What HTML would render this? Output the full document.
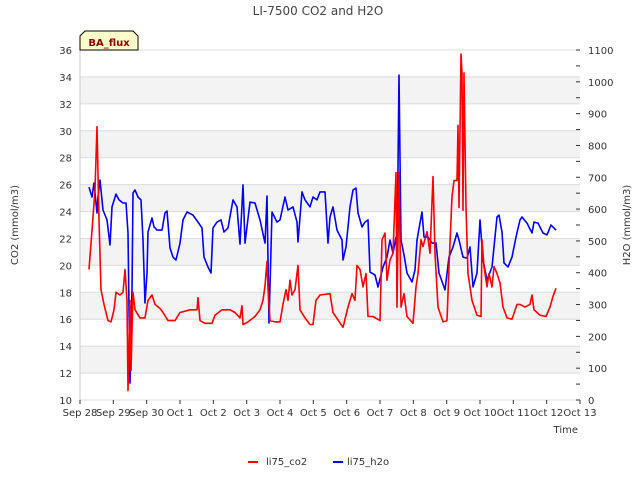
<!DOCTYPE html>
<html><head><meta charset="utf-8"><style>
body{margin:0;background:#fff;}
svg text{font-family:"DejaVu Sans","Liberation Sans",sans-serif;}
</style></head><body>
<svg id="chart" width="640" height="480" xmlns="http://www.w3.org/2000/svg">
<text x="318" y="15" text-anchor="middle" font-size="12" fill="#444">LI-7500 CO2 and H2O</text>
<g id="bands"></g>
<g id="grid"></g>
<g id="series"></g>
<g id="axes"></g>
<text transform="translate(18,225) rotate(-90)" text-anchor="middle" font-size="10" fill="#333">CO2 (mmol/m3)</text>
<text transform="translate(630,225) rotate(-90)" text-anchor="middle" font-size="10" fill="#333">H2O (mmol/m3)</text>
<text x="578" y="433" text-anchor="end" font-size="10" fill="#333">Time</text>
<g>
<path d="M80,50 L80,36 L85,31 L133,31 L138,36 L138,50 Z" fill="#ffffcc" stroke="#000" stroke-width="1"/>
<text x="109" y="46" text-anchor="middle" font-size="10" font-weight="bold" fill="#8b0000">BA_flux</text>
</g>
<g>
<g><line x1="248" y1="462" x2="258" y2="462" stroke="#f00" stroke-width="2"/><text x="266" y="465" font-size="10" fill="#333">li75_co2</text></g>
<g><line x1="333" y1="462" x2="343" y2="462" stroke="#00f" stroke-width="2"/><text x="347" y="465" font-size="10" fill="#333">li75_h2o</text></g>
</g>
</svg>
<script>
const xTickLabels=["Sep 28","Sep 29","Sep 30","Oct 1","Oct 2","Oct 3","Oct 4","Oct 5","Oct 6","Oct 7","Oct 8","Oct 9","Oct 10","Oct 11","Oct 12","Oct 13"];
const co2Ticks=[10,12,14,16,18,20,22,24,26,28,30,32,34,36];
const h2oTicks=[0,100,200,300,400,500,600,700,800,900,1000,1100];
const co2T=[0.27,0.36,0.45,0.51,0.57,0.63,0.72,0.84,0.93,1.02,1.08,1.20,1.29,1.35,1.41,1.44,1.50,1.53,1.59,1.65,1.80,1.95,2.04,2.16,2.25,2.40,2.49,2.64,2.85,3.00,3.30,3.51,3.54,3.60,3.75,3.96,4.05,4.26,4.50,4.65,4.80,4.86,4.89,5.04,5.25,5.40,5.49,5.55,5.61,5.64,5.70,5.85,6.00,6.09,6.18,6.24,6.30,6.36,6.45,6.54,6.60,6.75,6.90,6.99,7.08,7.20,7.50,7.59,7.89,8.04,8.16,8.25,8.31,8.40,8.49,8.58,8.64,8.79,9.00,9.06,9.15,9.21,9.30,9.39,9.48,9.51,9.57,9.63,9.72,9.81,9.99,10.08,10.14,10.23,10.29,10.41,10.50,10.59,10.65,10.74,10.89,11.01,11.07,11.16,11.22,11.31,11.34,11.37,11.43,11.46,11.49,11.52,11.58,11.64,11.76,11.91,12.03,12.06,12.12,12.21,12.27,12.36,12.42,12.51,12.60,12.69,12.81,12.96,13.11,13.20,13.35,13.50,13.56,13.62,13.80,13.98,14.10,14.19,14.28];
const co2V=[19.7,22.6,25.6,30.3,23.4,18.2,17.1,15.9,15.8,16.7,18.0,17.8,18.0,19.7,17.4,10.7,17.4,12.2,18.0,16.7,16.1,16.1,17.4,17.8,17.1,16.8,16.5,15.9,15.9,16.5,16.7,16.7,17.6,15.9,15.7,15.7,16.3,16.7,16.7,16.5,16.1,17.0,15.6,15.8,16.2,16.7,17.4,18.5,20.3,18.3,15.9,15.8,15.8,17.1,18.2,17.4,18.9,17.8,18.2,20.0,16.7,16.1,15.6,15.6,17.4,17.8,17.9,16.5,15.4,16.9,17.9,17.4,20.0,19.7,18.4,19.4,16.2,16.2,15.9,21.9,22.4,18.9,20.4,20.9,26.9,16.9,26.9,16.9,17.9,16.2,15.7,18.4,19.4,21.9,21.4,22.5,20.9,26.6,20.9,16.9,15.8,15.9,19.9,25.1,26.3,26.3,30.4,24.3,35.7,34.3,24.1,34.3,24.3,19.4,17.4,16.3,16.2,21.9,19.9,18.4,19.4,18.4,19.9,19.4,18.7,16.9,16.1,16.0,17.1,17.1,16.9,17.1,17.8,16.7,16.3,16.2,16.9,17.7,18.3];
const h2oT=[0.27,0.36,0.42,0.51,0.54,0.60,0.69,0.81,0.90,0.96,1.08,1.17,1.29,1.38,1.44,1.50,1.56,1.59,1.65,1.74,1.83,1.89,1.95,2.01,2.04,2.16,2.22,2.31,2.46,2.55,2.61,2.70,2.79,2.88,3.00,3.09,3.21,3.39,3.54,3.66,3.72,3.84,3.93,3.99,4.11,4.23,4.32,4.44,4.59,4.71,4.80,4.89,4.95,5.10,5.25,5.40,5.55,5.61,5.67,5.76,5.91,6.00,6.15,6.24,6.39,6.51,6.54,6.66,6.75,6.90,6.99,7.11,7.20,7.35,7.44,7.50,7.59,7.71,7.86,7.89,7.98,8.10,8.19,8.28,8.34,8.46,8.55,8.64,8.70,8.85,8.94,9.09,9.21,9.30,9.39,9.48,9.51,9.57,9.63,9.72,9.81,9.96,10.05,10.11,10.20,10.26,10.32,10.44,10.56,10.68,10.77,10.95,11.07,11.19,11.31,11.37,11.49,11.61,11.70,11.79,11.91,12.00,12.09,12.21,12.36,12.51,12.57,12.66,12.72,12.84,12.96,13.08,13.20,13.26,13.41,13.56,13.62,13.74,13.89,14.01,14.13,14.28];
const h2oV=[669,638,682,588,638,691,597,566,487,607,647,629,619,619,525,53,346,651,660,638,629,503,305,399,528,572,544,534,534,588,594,478,449,440,493,566,591,581,559,541,449,418,399,541,559,566,528,541,629,607,490,676,493,622,619,566,493,641,242,591,559,566,638,597,607,559,497,654,629,607,638,629,654,654,493,575,607,534,503,440,481,607,660,666,588,544,559,566,402,393,355,418,449,503,462,512,449,1021,503,456,399,371,409,503,556,591,512,512,493,493,399,346,449,481,525,503,449,446,481,355,399,566,440,377,418,575,581,528,431,418,449,512,566,575,556,525,559,556,525,519,550,534];

const NS="http://www.w3.org/2000/svg";
const L=80,R=580,T=50,B=400;
const xS=d=>L+(R-L)*d/15;
const yC=v=>B-(B-T)*(v-10)/26;
const yH=v=>B-(B-T)*v/1100;
function mk(tag,attrs,parent){const e=document.createElementNS(NS,tag);for(const k in attrs)e.setAttribute(k,attrs[k]);document.getElementById(parent).appendChild(e);return e;}
for(let v=12;v<36;v+=4){
  const r=mk('rect',{x:L,y:yC(v+2),width:R-L,height:yC(v)-yC(v+2),fill:'#f3f3f3'},'bands');
  
  
}
co2Ticks.forEach(v=>{
  const g=mk('line',{x1:L,x2:R,y1:yC(v),y2:yC(v),stroke:'#dcdcdc','stroke-width':1},'grid');
  
  
  const t=mk('text',{x:L-8,y:yC(v)+4,'text-anchor':'end','font-size':10,fill:'#333'},'axes');
  
  
  t.textContent=v;
});
h2oTicks.forEach(v=>{
  const t=mk('text',{x:R+8,y:yH(v)+4,'font-size':10,fill:'#333'},'axes');
  
  
  t.textContent=v;
});
for(let v=0;v<=1100;v+=50){
  const k=mk('line',{x1:R-4,x2:R,y1:yH(v),y2:yH(v),stroke:'#333'},'axes');
  
  
}
xTickLabels.forEach((s,i)=>{
  const k=mk('line',{x1:xS(i),x2:xS(i),y1:B,y2:B+4,stroke:'#333'},'axes');
  
  
  const t=mk('text',{x:xS(i),y:B+16,'text-anchor':'middle','font-size':10,fill:'#333'},'axes');
  
  
  t.textContent=s;
});
const ax=mk('line',{x1:L,x2:L,y1:T,y2:B,stroke:'#ccc'},'axes');


function line(ts,vs,yf,color,name){
  const d=ts.map((t,i)=>(i?'L':'M')+xS(t).toFixed(1)+','+yf(vs[i]).toFixed(1)).join(' ');
  const p=mk('path',{d:d,fill:'none',stroke:color,'stroke-width':1.6,'stroke-linejoin':'round'},'series');
  
  
}
line(h2oT,h2oV,yH,'#0000ff','h2o-line');
line(co2T,co2V,yC,'#ff0000','co2-line');
</script>
</body></html>
